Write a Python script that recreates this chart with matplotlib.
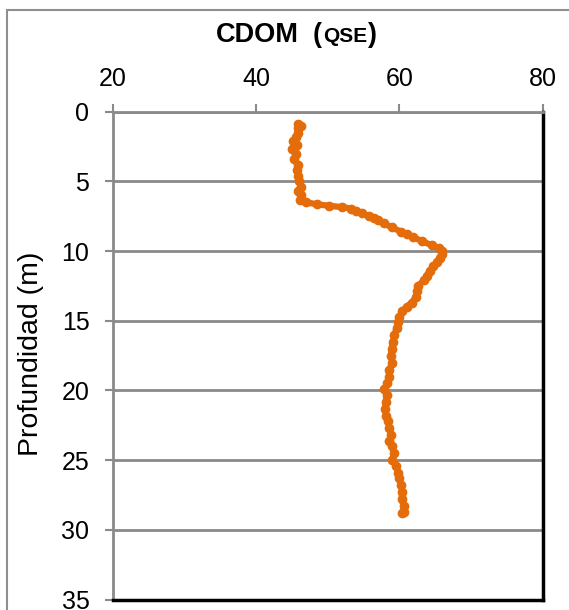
import matplotlib
matplotlib.use("Agg")
import matplotlib.pyplot as plt
from matplotlib.patches import Rectangle

# CDOM profile (QSE) vs depth (m)
depth = [0.9, 1.0, 1.2, 1.5, 1.8, 2.1, 2.4, 2.7, 3.0, 3.4, 3.8, 4.2, 4.6, 5.0,
         5.4, 5.7, 6.0, 6.3, 6.5, 6.65, 6.75, 6.85, 6.95, 7.1, 7.3, 7.5, 7.6,
         7.8, 8.0, 8.3, 8.6, 8.8, 9.0, 9.3, 9.6, 9.8, 10.0, 10.2, 10.5, 10.8,
         11.1, 11.4, 11.8, 12.1, 12.5, 12.9, 13.3, 13.7, 14.0, 14.3, 14.7,
         15.1, 15.5, 16.0, 16.5, 17.0, 17.5, 18.0, 18.5, 19.0, 19.5, 19.9,
         20.3, 20.8, 21.3, 21.8, 22.2, 22.7, 23.2, 23.6, 24.0, 24.5, 25.0,
         25.4, 25.9, 26.3, 26.8, 27.3, 27.8, 28.3, 28.7, 28.8]
cdom = [45.8, 46.3, 45.9, 45.8, 45.6, 45.2, 45.7, 45.0, 45.6, 45.3, 45.8, 45.7,
        45.9, 46.0, 46.2, 45.9, 46.3, 46.1, 47.0, 48.5, 50.2, 52.0, 53.3, 54.0,
        54.8, 55.8, 56.5, 57.0, 57.8, 58.9, 60.2, 61.0, 61.9, 63.2, 64.6, 65.5,
        65.9, 66.0, 65.7, 65.3, 64.7, 64.2, 63.8, 63.4, 62.6, 62.4, 62.3, 61.7,
        61.0, 60.4, 60.0, 59.8, 59.6, 59.3, 59.1, 58.9, 58.8, 59.0, 58.6, 58.5,
        58.3, 57.9, 58.2, 58.1, 58.0, 58.1, 58.4, 58.6, 58.8, 58.6, 59.0, 59.2,
        59.0, 59.5, 59.8, 60.0, 60.2, 60.4, 60.3, 60.6, 60.7, 60.4]

xticks = [20, 40, 60, 80]
yticks = [0, 5, 10, 15, 20, 25, 30, 35]

W, H = 569, 610
fig = plt.figure(figsize=(W / 100, H / 100), dpi=100)
ax = fig.add_axes([113 / W, 1 - 599.5 / H, 429.7 / W, 487.8 / H])

grey = "#8a8a8a"
orange = "#E46C0A"

ax.plot(cdom, depth, color=orange, lw=4.5, marker="o", ms=6, mec=orange,
        mfc=orange, solid_capstyle="round", solid_joinstyle="round", zorder=3)

ax.set_xlim(20, 80)
ax.set_ylim(35, 0)
ax.set_xticks(xticks)
ax.set_yticks(yticks)
ax.xaxis.tick_top()
ax.yaxis.grid(True, color=grey, lw=2)
ax.set_axisbelow(True)

ax.tick_params(axis="x", direction="out", length=6, width=1.5, color=grey,
               pad=9, labelsize=18)
ax.tick_params(axis="y", direction="out", length=6, width=1.5, color=grey,
               pad=11, labelsize=18)
for lab in ax.get_xticklabels() + ax.get_yticklabels():
    lab.set_family("Liberation Sans")

ax.spines["top"].set_color(grey)
ax.spines["top"].set_linewidth(2)
ax.spines["left"].set_color(grey)
ax.spines["left"].set_linewidth(2)
ax.spines["right"].set_color("black")
ax.spines["right"].set_linewidth(2.5)
ax.spines["bottom"].set_color("black")
ax.spines["bottom"].set_linewidth(2.5)

fig.text(31 / W, 1 - 354 / H, "Profundidad (m)", rotation=90, ha="center",
         va="center", fontsize=20.5, family="Liberation Sans")

# title: "CDOM (" + smaller "QSE" + ")"
ybase = 1 - 42 / H
for txt, px, sz in [("CDOM", 216, 19.5), ("(", 313, 19.5), ("QSE", 323, 15),
                    (")", 368, 19.5)]:
    fig.text(px / W, ybase, txt, fontsize=sz, fontweight="bold",
             family="Liberation Sans", va="baseline", ha="left")

# outer chart border
fig.patches.append(Rectangle((7 / W, -0.1), 1.2, 1.1 - 10 / H,
                             transform=fig.transFigure, fill=False,
                             ec="#8f8f8f", lw=1.5))

fig.savefig("out.png", dpi=100)
